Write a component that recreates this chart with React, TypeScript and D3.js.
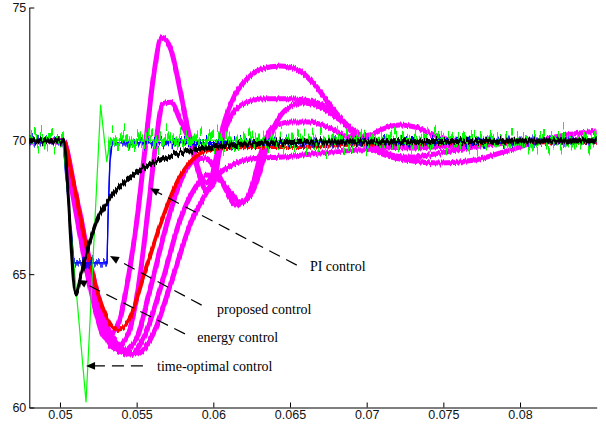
import React, { useEffect, useRef } from "react";
import * as d3 from "d3";

const W = 606;
const H = 428;

// Tick values
const xTicks = [0.05, 0.055, 0.06, 0.065, 0.07, 0.075, 0.08];
const yTicks = [60, 65, 70, 75];

// PI control responses (several controller settings) – [time, value]
const piA: [number, number][] = [
  [0.048, 70], [0.0502, 70], [0.05078, 68.16], [0.05143, 66.09], [0.05215, 64.03], [0.053, 62.61],
  [0.05378, 63.09], [0.05443, 64.78], [0.05502, 67.03], [0.05554, 69.66], [0.05607, 72.28],
  [0.05665, 73.88], [0.05724, 73.41], [0.05783, 71.91], [0.05835, 70.41], [0.0588, 69.47],
  [0.05913, 68.72], [0.05952, 68.42], [0.05991, 68.72], [0.0603, 69.66], [0.06076, 70.78],
  [0.06141, 71.72], [0.06226, 72.36], [0.06317, 72.7], [0.06435, 72.81], [0.06552, 72.66],
  [0.06663, 72.09], [0.06761, 71.34], [0.06859, 70.63], [0.06957, 70.03], [0.07087, 69.54],
  [0.0725, 69.28], [0.07478, 69.17], [0.07707, 69.28], [0.07935, 69.66], [0.08196, 70.11],
  [0.085, 70.37],
];
const piB: [number, number][] = [
  [0.048, 70], [0.0502, 70], [0.05078, 68.34], [0.05157, 65.91], [0.05248, 63.47], [0.05359, 62.23],
  [0.05443, 62.72], [0.05509, 64.41], [0.05567, 67.03], [0.0562, 69.66], [0.05672, 71.4],
  [0.05724, 71.45], [0.05783, 70.78], [0.05848, 69.92], [0.059, 68.91], [0.05952, 68.16],
  [0.05998, 68.34], [0.06043, 69.66], [0.06109, 70.86], [0.06207, 71.42], [0.06337, 71.58],
  [0.065, 71.58], [0.06663, 71.46], [0.06794, 71.04], [0.06891, 70.48], [0.06989, 69.92],
  [0.0712, 69.54], [0.07283, 69.39], [0.07478, 69.54], [0.07739, 69.81], [0.08065, 69.96],
  [0.085, 70],
];
const piC: [number, number][] = [
  [0.048, 70], [0.0502, 70], [0.05085, 68.34], [0.0517, 65.72], [0.05274, 63.21], [0.05404, 62.08],
  [0.05496, 62.53], [0.05587, 64.41], [0.05704, 67.03], [0.05796, 68.61], [0.0588, 69.28],
  [0.05946, 69.36], [0.06011, 68.98], [0.06083, 68.16], [0.06148, 67.59], [0.06213, 67.78],
  [0.06265, 68.53], [0.06317, 69.66], [0.06383, 70.48], [0.065, 70.71], [0.0663, 70.71],
  [0.06761, 70.48], [0.06891, 70.14], [0.07022, 70.22], [0.0712, 70.48], [0.07217, 70.59],
  [0.07315, 70.52], [0.07413, 70.29], [0.07543, 70.03], [0.07739, 69.89], [0.08065, 69.96],
  [0.085, 70],
];
const piD: [number, number][] = [
  [0.048, 70], [0.0502, 70], [0.05091, 68.23], [0.05196, 65.34], [0.05313, 62.91], [0.05457, 61.97],
  [0.05554, 62.72], [0.05652, 64.41], [0.05783, 67.03], [0.0588, 68.23], [0.05959, 68.72],
  [0.0603, 68.61], [0.06109, 68.08], [0.06174, 67.71], [0.06239, 67.93], [0.06291, 68.61],
  [0.06343, 69.66], [0.06402, 70.59], [0.06487, 71.23], [0.06585, 71.42], [0.06696, 71.27],
  [0.06826, 70.78], [0.06957, 70.22], [0.07087, 69.84], [0.07283, 69.73], [0.07543, 69.81],
  [0.08, 69.96], [0.085, 70],
];
const piE: [number, number][] = [
  [0.048, 70], [0.0502, 70], [0.05098, 68.16], [0.05215, 64.97], [0.05346, 62.61], [0.05502, 62.01],
  [0.0562, 62.91], [0.0573, 64.78], [0.05861, 67.03], [0.05946, 67.97], [0.0603, 68.72],
  [0.06122, 69.09], [0.06207, 69.28], [0.06317, 69.36], [0.06454, 69.39], [0.06696, 69.54],
  [0.06957, 69.66], [0.07217, 69.77], [0.07543, 69.89], [0.08, 69.96], [0.085, 70],
];
const piSeries = [piA, piB, piC, piD, piE];

// PI control, highlighted setting
const piRed: [number, number][] = [
  [0.048, 70], [0.0502, 70], [0.05085, 68.53], [0.05163, 66.28], [0.05261, 64.03], [0.05378, 62.91],
  [0.05457, 63.36], [0.05554, 65.08], [0.05665, 67.03], [0.0577, 68.53], [0.05861, 69.28],
  [0.05946, 69.62], [0.06076, 69.73], [0.06304, 69.77], [0.06565, 69.77], [0.06826, 69.84],
  [0.07217, 69.92], [0.085, 69.96],
];

// time-optimal control
const timeOptimal: [number, number][] = [
  [0.048, 70], [0.0502, 70], [0.0517, 60.21], [0.05265, 71.34], [0.05305, 69.22], [0.05326, 70.03],
  [0.085, 70],
];

// proposed control
const proposed: [number, number][] = [
  [0.048, 70], [0.0502, 70], [0.0509, 65.42], [0.05307, 65.42], [0.05313, 67.03], [0.05326, 69.28],
  [0.05339, 69.92], [0.085, 70],
];

// energy control
const energy: [number, number][] = [
  [0.048, 70], [0.0502, 70], [0.05104, 64.29], [0.05137, 64.97], [0.05176, 65.83], [0.05241, 67.03],
  [0.05326, 67.86], [0.05424, 68.46], [0.05522, 68.91], [0.05652, 69.28], [0.05783, 69.54],
  [0.05913, 69.69], [0.06109, 69.84], [0.0637, 69.92], [0.06696, 69.96], [0.085, 70],
];

// Annotations: label, arrow tip and tail, label anchor (data units)
const annotations = [
  { label: "PI control", tip: [0.05587, 68.22], tail: [0.06544, 65.34], at: [0.0663, 65.31] },
  { label: "proposed control", tip: [0.05326, 65.68], tail: [0.05924, 63.84], at: [0.06024, 63.69] },
  { label: "energy control", tip: [0.05117, 64.78], tail: [0.05815, 62.76], at: [0.05895, 62.64] },
  { label: "time-optimal control", tip: [0.0517, 61.56], tail: [0.05541, 61.56], at: [0.05633, 61.56] },
];

// Time windows where the time-optimal trace sits at steady state (ripple drawn there)
const steadyWindows: [number, number][] = [
  [0.048, 0.0502],
  [0.0532, 0.085],
];

const x = d3.scaleLinear().domain([0.048, 0.085]).range([29.3, 596.7]);
const y = d3.scaleLinear().domain([60, 75]).range([407.5, 7.5]);

const smooth = d3
  .line<[number, number]>()
  .x((d) => x(d[0]))
  .y((d) => y(d[1]))
  .curve(d3.curveMonotoneX);
const straight = d3
  .line<[number, number]>()
  .x((d) => x(d[0]))
  .y((d) => y(d[1]));

// Ripple rendering: vertical displacement driven by noise that varies along x
function Jitter({
  id,
  freq,
  scale,
  seed,
  spread = 0,
  octaves = 2,
}: {
  id: string;
  freq: number;
  scale: number;
  seed: number;
  spread?: number;
  octaves?: number;
}) {
  return (
    <filter id={id} filterUnits="userSpaceOnUse" x={0} y={0} width={W} height={H} colorInterpolationFilters="sRGB">
      <feTurbulence type="fractalNoise" baseFrequency={`${freq} 0.0005`} numOctaves={octaves} seed={seed} result="n" />
      <feColorMatrix in="n" type="matrix" values="0 0 0 0 0.5  0 1 0 0 0  0 0 1 0 0  0 0 0 0 1" result="m" />
      <feDisplacementMap in="SourceGraphic" in2="m" scale={scale} xChannelSelector="R" yChannelSelector="G" result="d" />
      {spread > 0 && <feMorphology in="d" operator="dilate" radius={`0 ${spread}`} />}
    </filter>
  );
}

export default function App() {
  const axRef = useRef<SVGGElement>(null);

  useEffect(() => {
    const g = d3.select(axRef.current);
    g.selectAll("*").remove();
    const xa = d3
      .axisBottom(x)
      .tickValues(xTicks)
      .tickFormat((d) => String(d))
      .tickSizeInner(-5)
      .tickSizeOuter(0)
      .tickPadding(3);
    const ya = d3
      .axisLeft(y)
      .tickValues(yTicks)
      .tickFormat((d) => String(d))
      .tickSizeInner(-5)
      .tickSizeOuter(0)
      .tickPadding(3);
    const gx = g.append("g").attr("transform", `translate(0,${y(60)})`).call(xa);
    const gy = g.append("g").attr("transform", `translate(${x(0.048)},0)`).call(ya);
    [gx, gy].forEach((a) => {
      a.attr("font-family", "'Liberation Sans', Arial, Helvetica, sans-serif").attr("font-size", 12.5);
      a.selectAll("path, line").attr("stroke", "#000").attr("stroke-width", 1);
      a.selectAll("text").attr("fill", "#111");
    });
  }, []);

  return (
    <svg width={W} height={H} style={{ position: "absolute", left: 0, top: 0, background: "#fff" }}>
      <defs>
        <Jitter id="jGreen" freq={0.35} scale={50} seed={3} spread={2.5} octaves={3} />
        <Jitter id="jBlue" freq={0.35} scale={20} seed={7} spread={1.5} />
        <Jitter id="jBlack" freq={0.45} scale={11} seed={11} spread={0.8} />
        <Jitter id="jPink" freq={0.6} scale={6} seed={5} />
        <clipPath id="steadyClip">
          {steadyWindows.map(([a, b], i) => (
            <rect key={i} x={x(a) - 1} y={0} width={x(b) - x(a) + 2} height={H} />
          ))}
        </clipPath>
      </defs>
      <rect width={W} height={H} fill="#fff" />

      <g fill="none" strokeLinejoin="round">
        {piSeries.map((s, i) => (
          <path key={i} d={smooth(s) ?? ""} stroke="#ff00ff" strokeWidth={5} filter="url(#jPink)" />
        ))}
        <path d={smooth(piRed) ?? ""} stroke="#ff0000" strokeWidth={4} filter="url(#jPink)" />
        <path d={straight(proposed) ?? ""} stroke="#0000ff" strokeWidth={1.2} />
        <path d={straight(proposed) ?? ""} stroke="#0000ff" strokeWidth={1.2} filter="url(#jBlue)" />
        <path d={straight(timeOptimal) ?? ""} stroke="#00ff00" strokeWidth={1.2} />
        <g clipPath="url(#steadyClip)">
          <path d={straight(timeOptimal) ?? ""} stroke="#00ff00" strokeWidth={1.5} filter="url(#jGreen)" />
        </g>
        <path d={smooth(energy) ?? ""} stroke="#000" strokeWidth={3} filter="url(#jBlack)" />
      </g>

      <g ref={axRef} />

      <g>
        {annotations.map((a) => {
          const tx = x(a.tip[0]);
          const ty = y(a.tip[1]);
          const sx = x(a.tail[0]);
          const sy = y(a.tail[1]);
          const ang = Math.atan2(ty - sy, tx - sx);
          const len = 9;
          const hw = 3.8;
          const bx = tx - len * Math.cos(ang);
          const by = ty - len * Math.sin(ang);
          const px = -Math.sin(ang) * hw;
          const py = Math.cos(ang) * hw;
          return (
            <g key={a.label}>
              <line x1={sx} y1={sy} x2={bx} y2={by} stroke="#000" strokeWidth={1.2} strokeDasharray="12 7" />
              <polygon points={`${tx},${ty} ${bx + px},${by + py} ${bx - px},${by - py}`} fill="#000" />
              <text
                x={x(a.at[0])}
                y={y(a.at[1])}
                dy="0.35em"
                fontFamily="'Liberation Serif', 'Times New Roman', serif"
                fontSize={14}
                fill="#000"
              >
                {a.label}
              </text>
            </g>
          );
        })}
      </g>
    </svg>
  );
}
